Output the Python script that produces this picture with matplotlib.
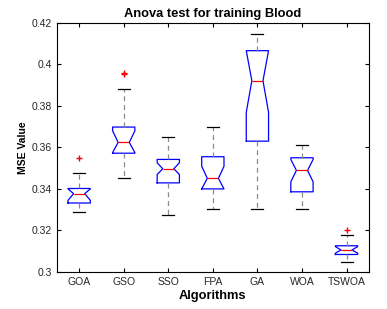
import numpy as np
import matplotlib
matplotlib.use('Agg')
import matplotlib.pyplot as plt

plt.rcParams['font.family'] = ['Liberation Sans', 'DejaVu Sans']

algorithms = ['GOA', 'GSO', 'SSO', 'FPA', 'GA', 'WOA', 'TSWOA']
whislo = [0.3287, 0.3453, 0.3274, 0.3305, 0.3305, 0.3301, 0.3050]
q1 = [0.3332, 0.3572, 0.3429, 0.3400, 0.3630, 0.3386, 0.3084]
med = [0.3377, 0.3624, 0.3497, 0.3451, 0.3921, 0.3489, 0.3106]
q3 = [0.3402, 0.3698, 0.3542, 0.3555, 0.4066, 0.3550, 0.3126]
whishi = [0.3478, 0.3881, 0.3650, 0.3697, 0.4148, 0.3611, 0.3176]
cilo = [0.3345, 0.3575, 0.3469, 0.3400, 0.3769, 0.3434, 0.3090]
cihi = [0.3400, 0.3680, 0.3526, 0.3509, 0.4066, 0.3542, 0.3122]
fliers = [[0.3548], [0.3955, 0.3960], [], [], [], [], [0.3202]]

stats = []
for i in range(len(algorithms)):
    stats.append(dict(label=algorithms[i], whislo=whislo[i], q1=q1[i], med=med[i],
                      q3=q3[i], whishi=whishi[i], cilo=cilo[i], cihi=cihi[i],
                      fliers=fliers[i]))

fig = plt.figure(figsize=(3.87, 3.09), dpi=100)
ax = fig.add_axes([0.147, 0.120, 0.806, 0.806])

ax.bxp(stats, positions=range(1, 8), widths=0.5, shownotches=True, capwidths=0.27,
       boxprops=dict(color='blue', linewidth=0.9),
       medianprops=dict(color='red', linewidth=0.9),
       whiskerprops=dict(color='#8c8c8c', linestyle=(0, (4, 3)), linewidth=0.9),
       capprops=dict(color='black', linewidth=0.9),
       flierprops=dict(marker='+', markeredgecolor='red', markersize=5, markeredgewidth=1.0))

ax.set_xlim(0.5, 7.5)
ax.set_ylim(0.3, 0.42)
ax.set_yticks([0.3, 0.32, 0.34, 0.36, 0.38, 0.4, 0.42])
ax.set_yticklabels(['0.3', '0.32', '0.34', '0.36', '0.38', '0.4', '0.42'])
ax.set_xticks(range(1, 8))
ax.set_xticklabels(algorithms)
ax.tick_params(direction='in', top=True, right=True, labelsize=7.5, length=3, width=0.8,
               labelcolor='#262626')
for s in ax.spines.values():
    s.set_linewidth(0.8)

ax.set_title('Anova test for training Blood', fontsize=9.3, fontweight='bold', pad=4)
ax.set_xlabel('Algorithms', fontsize=9.3, fontweight='bold', labelpad=2)
ax.set_ylabel('MSE Value', fontsize=7.5, fontweight='bold', labelpad=3)

plt.savefig('out.png', dpi=100)
